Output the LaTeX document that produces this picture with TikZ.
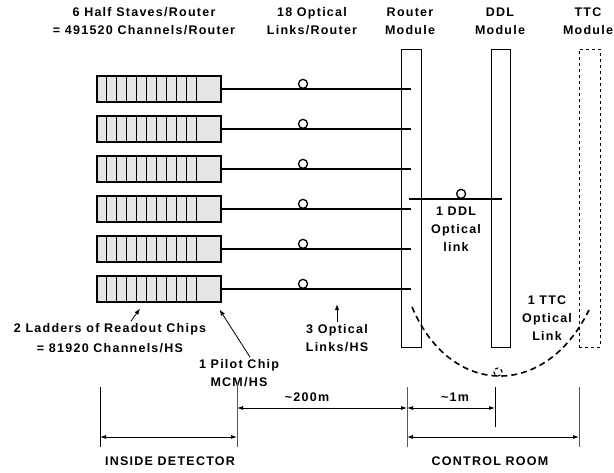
\documentclass[tikz,border=0pt]{standalone}
\usepackage{fontspec}
\setmainfont{Liberation Sans}[LetterSpace=10]
\usetikzlibrary{arrows.meta,calc}

\tikzset{
    lbl/.style={font=\fontsize{12.5}{18}\selectfont\bfseries, align=center, inner sep=0pt},
    hsbox/.style={draw, line width=1.2pt, fill=black!10, minimum width=124pt, minimum height=26pt, inner sep=0pt},
    modbox/.style={draw, line width=0.9pt, minimum height=298pt, inner sep=0pt},
    link/.style={line width=1.5pt},
    oring/.style={draw, circle, line width=1.3pt, fill=white, minimum size=9pt, inner sep=0pt},
    ptr/.style={line width=0.8pt, -{Latex[length=6pt,width=4.5pt]}},
    dimline/.style={line width=0.8pt, {Latex[length=6pt,width=4pt]}-{Latex[length=6pt,width=4pt]}},
    dimtick/.style={line width=0.9pt}
}

\begin{document}
\begin{tikzpicture}[x=1pt, y=-1pt]
    \useasboundingbox (0,0) rectangle (614,472);

    % Modules
    \node[modbox, minimum width=20pt] (router) at (411,198) {};
    \node[modbox, minimum width=19pt] (ddl) at (500.5,198) {};
    \node[modbox, minimum width=21pt, dashed] (ttc) at (589.5,198) {};

    % Half staves and optical links
    \foreach \i/\y in {1/89,2/129,3/169,4/209,5/249,6/289} {
        \node[hsbox] (hs\i) at (159,\y) {};
        \foreach \j in {1,...,10}
            \draw[line width=0.7pt] ($(hs\i.north west)+(10*\j,0)$) -- ($(hs\i.south west)+(10*\j,0)$);
        \draw[link] (hs\i.east) -- (hs\i.east -| router.center) node[oring, pos=0.43, anchor=south] (ring\i) {};
    }

    % DDL link
    \coordinate (ddlA) at (409,199);
    \coordinate (ddlB) at (502,199);
    \draw[link] (ddlA) -- (ddlB) node[oring, pos=0.56, anchor=south] (ddlring) {};

    % TTC link
    \coordinate (ttcA) at (412,307);
    \coordinate (ttcB) at (589,310);
    \draw[line width=1.6pt, dash pattern=on 6pt off 4pt] (ttcA) .. controls (450,397) and (545,400) .. (ttcB);
    \node[draw, circle, dashed, line width=1.2pt, minimum size=8pt, inner sep=0pt] (ttcring) at (498,372) {};

    % Headers
    \node[lbl] (hslbl) at (144,21) {6 Half Staves/Router\\= 491520 Channels/Router};
    \node[lbl] (linklbl) at (312,21) {18 Optical\\Links/Router};
    \node[lbl] (routerlbl) at (410,21) {Router\\Module};
    \node[lbl] (ddllbl) at (500,21) {DDL\\Module};
    \node[lbl] (ttclbl) at (588,21) {TTC\\Module};

    % Link labels
    \node[lbl] (ddllinklbl) at (456,229) {1 DDL\\Optical\\link};
    \node[lbl] (ttclinklbl) at (547,318) {1 TTC\\Optical\\Link};
    \node[lbl] (hslinklbl) at (337,338) {3 Optical\\Links/HS};
    \node[lbl, font=\fontsize{12.5}{20}\selectfont\bfseries] (ladlbl) at (110,338) {2 Ladders of Readout Chips\\= 81920 Channels/HS};
    \node[lbl] (pilotlbl) at (239,373) {1 Pilot Chip\\MCM/HS};

    \draw[ptr] ([xshift=21pt,yshift=2pt]ladlbl.north) -- ([xshift=-19pt,yshift=-6pt]hs6.south);
    \draw[ptr] ([xshift=11pt,yshift=2pt]pilotlbl.north) -- ([xshift=-2pt,yshift=-7pt]hs6.south east);
    \draw[ptr] ([yshift=2pt]hslinklbl.north) -- ++(0,-18);

    % Distances
    \draw[dimtick] (100,387) -- (100,447);
    \draw[dimtick, black!65] (237,383) -- (237,447);
    \draw[dimtick, black!65] (407,387) -- (407,447);
    \draw[dimtick] (495,387) -- (495,427);
    \draw[dimtick, black!65] (579,387) -- (579,447);

    \coordinate (detL) at (100,437);
    \coordinate (detR) at (237,437);
    \coordinate (cabL) at (237,408);
    \coordinate (cabR) at (407,408);
    \coordinate (rackL) at (407,408);
    \coordinate (rackR) at (495,408);
    \coordinate (roomL) at (407,437);
    \coordinate (roomR) at (579,437);
    \draw[dimline] (detL) -- (detR);
    \draw[dimline] (cabL) -- (cabR);
    \draw[dimline] (rackL) -- (rackR);
    \draw[dimline] (roomL) -- (roomR);

    \node[lbl] (cablbl) at (307,397) {\textasciitilde200m};
    \node[lbl] (racklbl) at (455,397) {\textasciitilde1m};
    \node[lbl] (detlbl) at (170,461) {INSIDE DETECTOR};
    \node[lbl] (roomlbl) at (490,461) {CONTROL ROOM};
\end{tikzpicture}
\end{document}
